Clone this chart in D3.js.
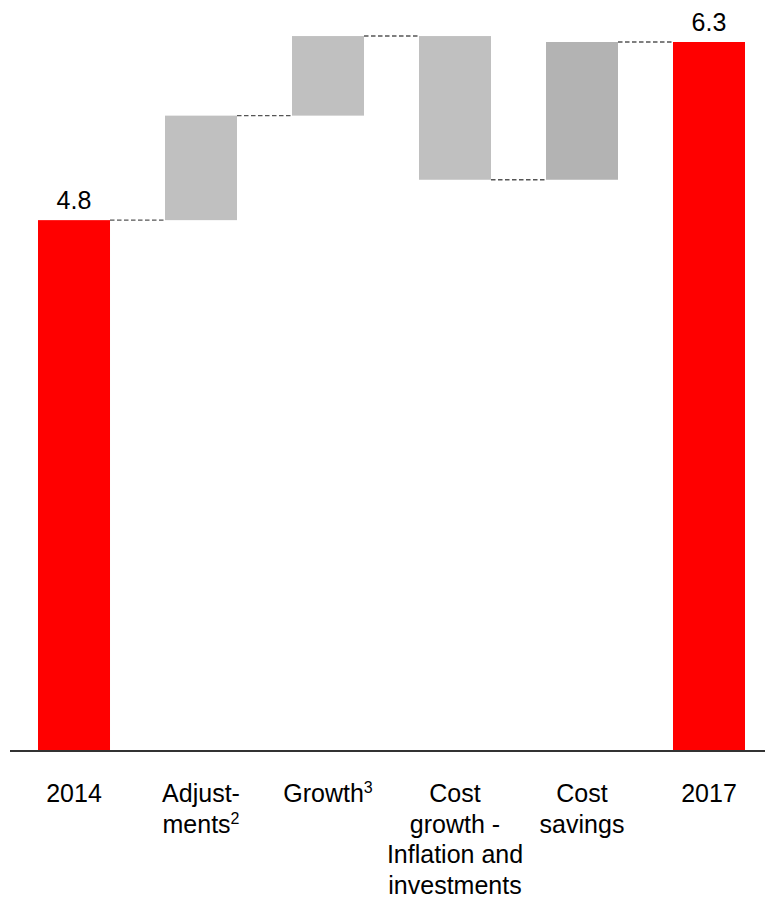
<!DOCTYPE html>
<html>
<head>
<meta charset="utf-8">
<script src="https://cdn.jsdelivr.net/npm/d3@7"></script>
<style>
  html, body { margin: 0; padding: 0; background: #ffffff; }
  svg { display: block; }
  text { font-family: "Liberation Sans", Arial, sans-serif; fill: #000; }
</style>
</head>
<body>
<svg id="chart" width="765" height="897"></svg>
<script>
// Waterfall: 2014 total, four bridging steps, 2017 total
const categories = ["2014", "Adjustments", "Growth", "Cost growth", "Cost savings", "2017"];
const labelLines = [
  ["2014"],
  ["Adjust-", "ments"],
  ["Growth"],
  ["Cost", "growth -", "Inflation and", "investments"],
  ["Cost", "savings"],
  ["2017"]
];
const footnotes = [null, "2", "3", null, null, null];
const startValue = 4.8;
const stepValues = [0.88, 0.67, -1.21, 1.16];
const endValue = 6.3;
const barKinds = ["total", "step", "step", "step", "saving", "total"];
const axisFloor = 0.33;

const colors = { total: "#ff0000", step: "#c0c0c0", saving: "#b3b3b3" };

// Running levels after each step
const levels = [startValue];
stepValues.forEach(d => levels.push(+(levels[levels.length - 1] + d).toFixed(4)));

// Bar segments
const segments = [];
segments.push({ cat: categories[0], y0: axisFloor, y1: startValue, kind: barKinds[0], label: startValue });
stepValues.forEach((d, i) => {
  const from = levels[i], to = levels[i + 1];
  segments.push({ cat: categories[i + 1], y0: Math.min(from, to), y1: Math.max(from, to), kind: barKinds[i + 1] });
});
segments.push({ cat: categories[5], y0: axisFloor, y1: endValue, kind: barKinds[5], label: endValue });

const svg = d3.select("#chart");

const x = d3.scaleBand()
  .domain(categories)
  .range([38, 745])
  .paddingInner(0.433)
  .paddingOuter(0);

const y = d3.scaleLinear()
  .domain([axisFloor, endValue])
  .range([751, 42]);

// Dashed connectors between consecutive bars
svg.append("g")
  .selectAll("line")
  .data(levels)
  .join("line")
  .attr("x1", (d, i) => x(categories[i]) + x.bandwidth())
  .attr("x2", (d, i) => x(categories[i + 1]))
  .attr("y1", d => y(d))
  .attr("y2", d => y(d))
  .attr("stroke", "#555")
  .attr("stroke-width", 1.4)
  .attr("stroke-dasharray", "4.5,2.5");

// Bars
svg.append("g")
  .selectAll("rect")
  .data(segments)
  .join("rect")
  .attr("x", d => x(d.cat))
  .attr("width", x.bandwidth())
  .attr("y", d => y(d.y1))
  .attr("height", d => y(d.y0) - y(d.y1))
  .attr("fill", d => colors[d.kind]);

// Value labels on the totals
svg.append("g")
  .selectAll("text")
  .data(segments.filter(d => d.label !== undefined))
  .join("text")
  .attr("x", d => x(d.cat) + x.bandwidth() / 2)
  .attr("y", d => y(d.y1) - 11)
  .attr("text-anchor", "middle")
  .style("font-size", "25px")
  .text(d => d.label.toFixed(1));

// Baseline
svg.append("line")
  .attr("x1", 10).attr("x2", 765)
  .attr("y1", y(axisFloor)).attr("y2", y(axisFloor))
  .attr("stroke", "#333")
  .attr("stroke-width", 2);

// Category labels
const lab = svg.append("g")
  .selectAll("text")
  .data(categories)
  .join("text")
  .attr("x", d => x(d) + x.bandwidth() / 2)
  .attr("y", 802)
  .attr("text-anchor", "middle")
  .style("font-size", "25px");

lab.each(function (d, i) {
  const t = d3.select(this);
  const lines = labelLines[i];
  const cx = x(d) + x.bandwidth() / 2;
  lines.forEach((line, j) => {
    const ln = t.append("tspan")
      .attr("x", cx)
      .attr("y", 802 + j * 30.5);
    ln.append("tspan").text(line);
    if (j === lines.length - 1 && footnotes[i]) {
      ln.append("tspan")
        .attr("dy", -9)
        .style("font-size", "16px")
        .text(footnotes[i]);
    }
  });
});
</script>
</body>
</html>
